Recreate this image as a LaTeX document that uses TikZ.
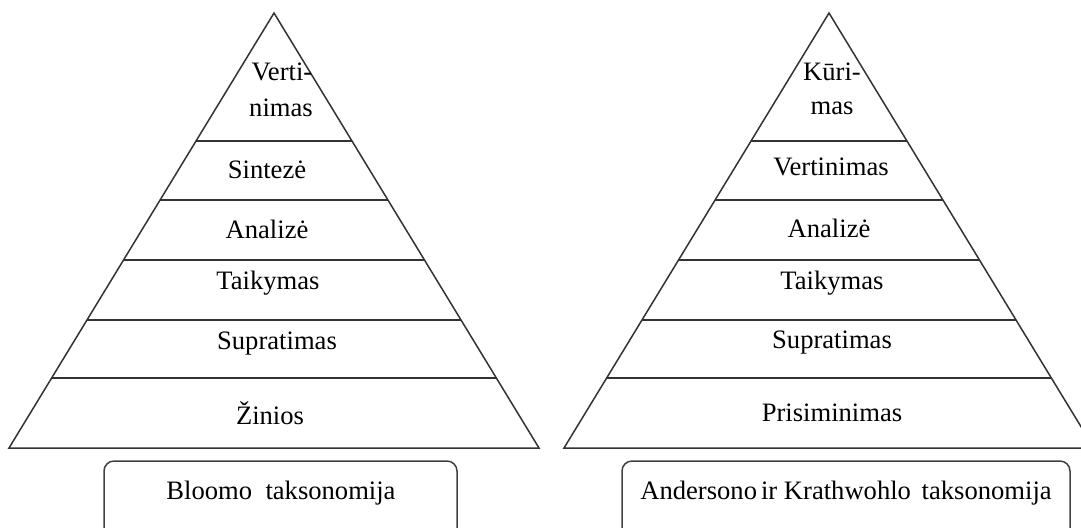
\documentclass[tikz,border=0pt]{standalone}
\usepackage{fontspec}
\setmainfont{Liberation Serif}
\usetikzlibrary{calc}
\begin{document}
\begin{tikzpicture}[x=0.5pt,y=-0.5pt,
  edge/.style={draw=black!80,line width=0.75pt},
  lbl/.style={inner sep=0pt,font=\fontsize{13.3}{16}\selectfont},
  taxbox/.style={draw=black!75,line width=0.75pt,rounded corners=5pt}]
\useasboundingbox (0,0) rectangle (1081,527);
\clip (0,0) rectangle (1081,527);
% left pyramid
\coordinate (LA) at (274,13);
\coordinate (LL) at (9,448);
\coordinate (LR) at (539,448);
\draw[edge] (LL) -- (LA) -- (LR) -- cycle;
\foreach \t in {0.2943,0.4299,0.5678,0.7057,0.8391}
  \draw[edge] ($(LA)!\t!(LL)$) -- ($(LA)!\t!(LR)$);
% right pyramid
\coordinate (RA) at (829,13);
\coordinate (RL) at (564,448);
\coordinate (RR) at (1094,448);
\draw[edge] (RL) -- (RA) -- (RR) -- cycle;
\foreach \t in {0.2943,0.4299,0.5678,0.7057,0.8391}
  \draw[edge] ($(RA)!\t!(RL)$) -- ($(RA)!\t!(RR)$);
% left labels
\node[lbl] (l1a) at (282,72) {Verti-};
\node[lbl] (l1b) at (281,108) {nimas};
\node[lbl] (l2) at (267,170) {Sintezė};
\node[lbl] (l3) at (267,229) {Analizė};
\node[lbl] (l4) at (268,283) {Taikymas};
\node[lbl] (l5) at (277,344) {Supratimas};
\node[lbl] (l6) at (270,413) {Žinios};
% right labels
\node[lbl] (r1a) at (832,72) {Kūri-};
\node[lbl] (r1b) at (832,108) {mas};
\node[lbl] (r2) at (831,167) {Vertinimas};
\node[lbl] (r3) at (829,228) {Analizė};
\node[lbl] (r4) at (832,283) {Taikymas};
\node[lbl] (r5) at (832,343) {Supratimas};
\node[lbl] (r6) at (832,413) {Prisiminimas};
% boxes
\draw[taxbox] (104,461) rectangle (457,540);
\draw[taxbox] (622,461) rectangle (1070,540);
\node[lbl] (bl) at (281,493) {Bloomo\hspace{0.5em}taksonomija};
\node[lbl] (br) at (846,493) {Andersono\hspace{0.15em}ir Krathwohlo\hspace{0.4em}taksonomija};
\end{tikzpicture}
\end{document}
